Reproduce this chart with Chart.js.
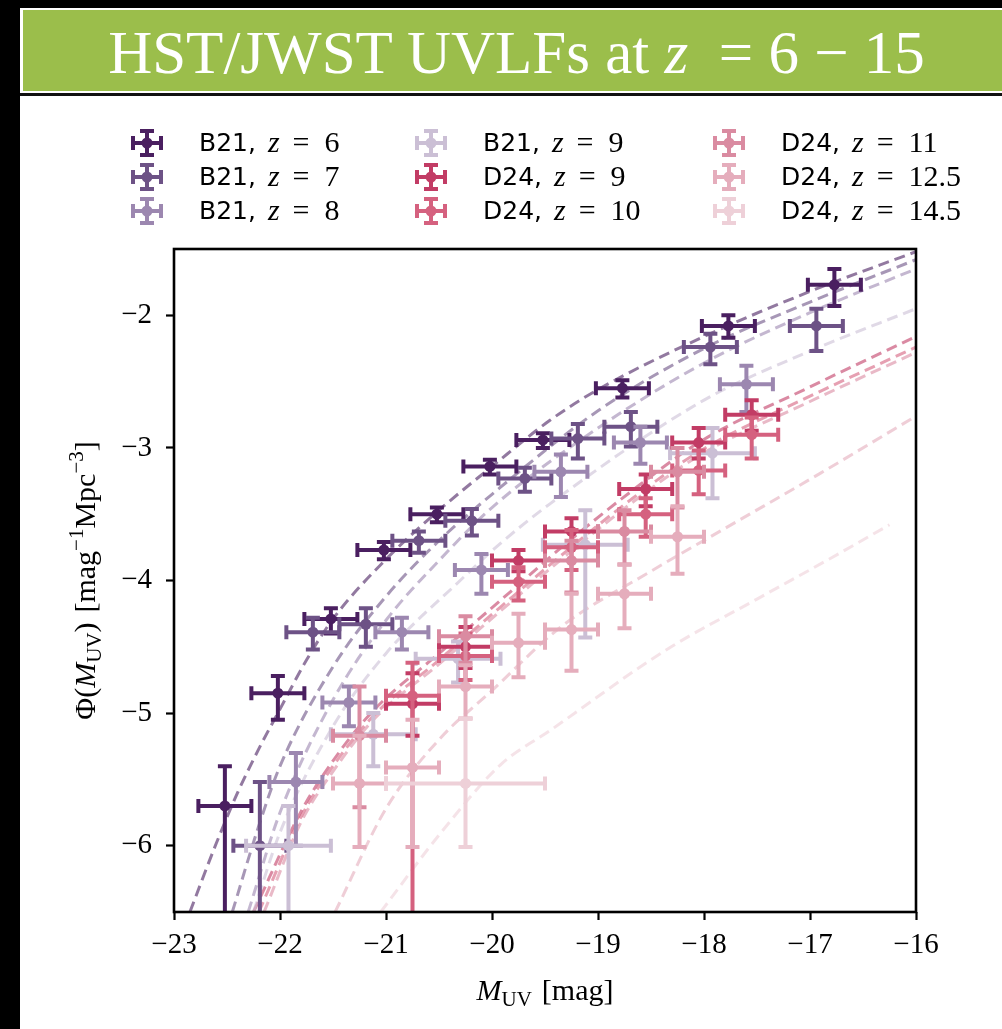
<!DOCTYPE html>
<html><head><meta charset="utf-8">
<script src="https://cdn.jsdelivr.net/npm/chart.js@4.4.1/dist/chart.umd.min.js"></script>
<style>
html,body{margin:0;padding:0;background:#fff;width:1002px;height:1029px;overflow:hidden;position:relative}
#leftbar{position:absolute;left:0;top:0;width:20px;height:1029px;background:#000;z-index:2}
#topbar{position:absolute;left:0;top:0;width:1002px;height:8px;background:#000;z-index:2}
#banner{position:absolute;left:21px;top:8px;width:981px;height:85px;background:#9bbe4b;border:2px solid #fff;border-right:none;box-sizing:border-box;color:#fff;font-family:"Liberation Serif",serif;font-size:61px;line-height:86px;text-align:center;z-index:2;padding-left:8px}
#bannerline{position:absolute;left:20px;top:93px;width:982px;height:3px;background:#111;z-index:2}
canvas{position:absolute;left:0;top:0;z-index:1}
</style></head>
<body>
<div id="leftbar"></div><div id="topbar"></div>
<div id="banner">HST/JWST UVLFs at <i>z</i>&nbsp; = 6 − 15</div>
<div id="bannerline"></div>
<canvas id="c" width="1002" height="1029"></canvas>
<script>
// ---------- axis ticks ----------
const xTicks = [-23, -22, -21, -20, -19, -18, -17, -16];
const yTicks = [-6, -5, -4, -3, -2];

// ---------- series labels ----------
const sources   = ['B21', 'B21', 'B21', 'B21', 'D24', 'D24', 'D24', 'D24', 'D24'];
const redshifts = ['6', '7', '8', '9', '9', '10', '11', '12.5', '14.5'];

// ---------- B21 z=6 ----------
const M_b6   = [-22.52, -22.02, -21.52, -21.02, -20.52, -20.02, -19.52, -18.77, -17.77, -16.77];
const P_b6   = [-5.70, -4.85, -4.29, -3.77, -3.50, -3.14, -2.94, -2.55, -2.08, -1.77];
const Phi_b6 = [-5.40, -4.72, -4.21, -3.71, -3.45, -3.09, -2.89, -2.49, -2.00, -1.65];
const Plo_b6 = [-9.00, -5.05, -4.40, -3.84, -3.56, -3.20, -3.00, -2.62, -2.17, -1.93];
const Xe_b6  = [0.25, 0.25, 0.25, 0.25, 0.25, 0.25, 0.25, 0.25, 0.25, 0.25];
// ---------- B21 z=7 ----------
const M_b7   = [-22.19, -21.69, -21.19, -20.69, -20.19, -19.69, -19.19, -18.69, -17.94, -16.94];
const P_b7   = [-6.00, -4.39, -4.33, -3.70, -3.55, -3.23, -2.93, -2.84, -2.24, -2.08];
const Phi_b7 = [-5.52, -4.28, -4.21, -3.63, -3.46, -3.15, -2.82, -2.73, -2.14, -1.95];
const Plo_b7 = [-9.00, -4.52, -4.50, -3.79, -3.66, -3.33, -3.08, -2.99, -2.37, -2.27];
const Xe_b7  = [0.25, 0.25, 0.25, 0.25, 0.25, 0.25, 0.25, 0.25, 0.25, 0.25];
// ---------- B21 z=8 ----------
const M_b8   = [-21.85, -21.35, -20.85, -20.10, -19.35, -18.60, -17.60];
const P_b8   = [-5.52, -4.92, -4.39, -3.92, -3.18, -2.96, -2.52];
const Phi_b8 = [-5.30, -4.80, -4.28, -3.80, -3.05, -2.84, -2.38];
const Plo_b8 = [-6.00, -5.10, -4.52, -4.10, -3.37, -3.12, -2.73];
const Xe_b8  = [0.25, 0.25, 0.25, 0.25, 0.25, 0.25, 0.25];
// ---------- B21 z=9 ----------
const M_b9   = [-21.92, -21.12, -20.32, -19.12, -17.92];
const P_b9   = [-6.00, -5.16, -4.59, -3.73, -3.04];
const Phi_b9 = [-5.70, -5.00, -4.46, -3.47, -2.85];
const Plo_b9 = [-9.00, -5.40, -4.77, -4.43, -3.38];
const Xe_b9  = [0.40, 0.40, 0.40, 0.40, 0.40];
// ---------- D24 z=9 ----------
const M_d9   = [-20.75, -20.25, -19.75, -19.25, -18.55, -18.05, -17.55];
const P_d9   = [-4.93, -4.50, -3.85, -3.63, -3.31, -2.96, -2.75];
const Phi_d9 = [-4.70, -4.35, -3.77, -3.53, -3.20, -2.85, -2.64];
const Plo_d9 = [-5.17, -4.66, -3.93, -3.75, -3.44, -3.08, -2.87];
const Xe_d9  = [0.25, 0.25, 0.25, 0.25, 0.25, 0.25, 0.25];
// ---------- D24 z=10 ----------
const M_d10   = [-20.75, -20.25, -19.75, -19.25, -18.55, -18.05, -17.55];
const P_d10   = [-4.87, -4.57, -4.01, -3.75, -3.50, -3.17, -2.90];
const Phi_d10 = [-4.62, -4.40, -3.90, -3.62, -3.38, -3.02, -2.77];
const Plo_d10 = [-9.00, -4.75, -4.15, -3.92, -3.67, -3.35, -3.08];
const Xe_d10  = [0.25, 0.25, 0.25, 0.25, 0.25, 0.25, 0.25];
// ---------- D24 z=11 ----------
const M_d11   = [-21.25, -20.25, -19.25, -18.75, -18.25];
const P_d11   = [-5.17, -4.42, -3.85, -3.63, -3.18];
const Phi_d11 = [-4.80, -4.27, -3.70, -3.47, -3.00];
const Plo_d11 = [-5.71, -4.62, -4.09, -3.88, -3.45];
const Xe_d11  = [0.25, 0.25, 0.25, 0.25, 0.25];
// ---------- D24 z=12.5 ----------
const M_d12   = [-21.25, -20.75, -20.25, -19.75, -19.25, -18.75, -18.25];
const P_d12   = [-5.53, -5.41, -4.80, -4.47, -4.37, -4.10, -3.67];
const Phi_d12 = [-5.17, -5.05, -4.64, -4.25, -4.10, -3.88, -3.44];
const Plo_d12 = [-6.01, -6.01, -5.04, -4.73, -4.68, -4.36, -3.95];
const Xe_d12  = [0.25, 0.25, 0.25, 0.25, 0.25, 0.25, 0.25];
// ---------- D24 z=14.5 ----------
const M_d14   = [-20.25];
const P_d14   = [-5.53];
const Phi_d14 = [-5.04];
const Plo_d14 = [-6.01];
const Xe_d14  = [0.75];

// ---------- dashed fit curves ----------
const FM_b6 = [-22.85, -22.6, -22.4, -22.2, -22.0, -21.75, -21.5, -21.0, -20.5, -20.0, -19.45, -19.0, -18.0, -17.0, -16.0];
const FP_b6 = [-6.50, -5.98, -5.60, -5.27, -4.97, -4.60, -4.29, -3.84, -3.47, -3.14, -2.79, -2.56, -2.16, -1.82, -1.52];
const FM_b7 = [-22.45, -22.2, -22.0, -21.5, -21.0, -20.5, -20.0, -19.0, -18.0, -17.0, -16.0];
const FP_b7 = [-6.50, -5.85, -5.40, -4.65, -4.12, -3.70, -3.35, -2.72, -2.25, -1.90, -1.58];
const FM_b8 = [-22.3, -22.0, -21.5, -21.0, -20.5, -20.0, -19.0, -18.0, -17.0, -16.0];
const FP_b8 = [-6.50, -5.75, -4.90, -4.30, -3.85, -3.45, -2.85, -2.36, -1.98, -1.65];
const FM_b9 = [-22.25, -22.0, -21.5, -21.0, -20.3, -19.92, -19.45, -18.0, -17.0, -16.0];
const FP_b9 = [-6.50, -5.90, -5.10, -4.55, -4.00, -3.72, -3.42, -2.64, -2.27, -1.95];
const FM_d9 = [-22.25, -21.8, -21.5, -21.13, -20.5, -19.92, -19.3, -18.69, -18.03, -17.0, -16.0];
const FP_d9 = [-6.50, -5.74, -5.36, -4.99, -4.55, -4.15, -3.72, -3.33, -2.95, -2.54, -2.16];
const FM_d10 = [-22.2, -21.8, -21.5, -21.13, -20.5, -19.92, -19.3, -18.69, -18.03, -17.0, -16.0];
const FP_d10 = [-6.50, -5.78, -5.40, -5.03, -4.60, -4.20, -3.78, -3.39, -3.02, -2.61, -2.24];
const FM_d11 = [-22.15, -21.8, -21.5, -21.13, -20.5, -19.92, -19.3, -18.69, -18.03, -17.0, -16.0];
const FP_d11 = [-6.50, -5.82, -5.44, -5.06, -4.63, -4.23, -3.81, -3.42, -3.05, -2.65, -2.28];
const FM_d12 = [-21.48, -21.0, -20.5, -20.0, -19.35, -18.5, -17.7, -16.9, -16.0];
const FP_d12 = [-6.50, -5.72, -5.20, -4.83, -4.35, -3.93, -3.56, -3.19, -2.76];
const FM_d14 = [-21.05, -20.5, -19.92, -19.45, -18.35, -17.5, -16.8, -16.25];
const FP_d14 = [-6.50, -5.92, -5.39, -5.13, -4.52, -4.14, -3.83, -3.58];

// ---------- styling ----------
const colors = ['#4a1f60', '#6d5286', '#9c87b0', '#cbbfd5', '#c23c65', '#d5617f', '#da8ba1', '#e5adbc', '#eed0d8'];
const fitAlpha = 0.6;

const series = [
  [M_b6, P_b6, Phi_b6, Plo_b6, Xe_b6, FM_b6, FP_b6],
  [M_b7, P_b7, Phi_b7, Plo_b7, Xe_b7, FM_b7, FP_b7],
  [M_b8, P_b8, Phi_b8, Plo_b8, Xe_b8, FM_b8, FP_b8],
  [M_b9, P_b9, Phi_b9, Plo_b9, Xe_b9, FM_b9, FP_b9],
  [M_d9, P_d9, Phi_d9, Plo_d9, Xe_d9, FM_d9, FP_d9],
  [M_d10, P_d10, Phi_d10, Plo_d10, Xe_d10, FM_d10, FP_d10],
  [M_d11, P_d11, Phi_d11, Plo_d11, Xe_d11, FM_d11, FP_d11],
  [M_d12, P_d12, Phi_d12, Plo_d12, Xe_d12, FM_d12, FP_d12],
  [M_d14, P_d14, Phi_d14, Plo_d14, Xe_d14, FM_d14, FP_d14]
];

function hexA(h, a) {
  const r = parseInt(h.slice(1,3),16), g = parseInt(h.slice(3,5),16), b = parseInt(h.slice(5,7),16);
  return `rgba(${r},${g},${b},${a})`;
}

const datasets = [];
series.forEach((s, i) => {
  const [M, P, Phi, Plo, Xe, FM, FP] = s;
  datasets.push({
    type: 'line', label: 'fit ' + i, isFit: true,
    data: FM.map((m, j) => ({x: m, y: FP[j]})),
    borderColor: hexA(colors[i], fitAlpha), borderWidth: 3, borderDash: [11, 6],
    pointRadius: 0, fill: false, cubicInterpolationMode: 'monotone', order: 30
  });
});
series.forEach((s, i) => {
  const [M, P, Phi, Plo, Xe] = s;
  datasets.push({
    type: 'scatter', label: sources[i] + ', z = ' + redshifts[i], idx: i,
    data: M.map((m, j) => ({x: m, y: P[j]})),
    errHi: Phi, errLo: Plo, errX: Xe,
    backgroundColor: colors[i], borderColor: colors[i], borderWidth: 0,
    pointRadius: 5.5, pointHoverRadius: 5.5, order: 20 - i
  });
});

const SERIF = '"Liberation Serif", "DejaVu Serif", serif';
const SANS = '"DejaVu Sans", "Liberation Sans", sans-serif';
const LW = 4, CAP = 7;

function drawCross(ctx, cx, cy, hx, hy, cap, lw, col) {
  ctx.strokeStyle = col; ctx.lineWidth = lw; ctx.lineCap = 'butt';
  ctx.beginPath();
  ctx.moveTo(cx - hx, cy); ctx.lineTo(cx + hx, cy);
  ctx.moveTo(cx, cy - hy); ctx.lineTo(cx, cy + hy);
  ctx.moveTo(cx - hx, cy - cap); ctx.lineTo(cx - hx, cy + cap);
  ctx.moveTo(cx + hx, cy - cap); ctx.lineTo(cx + hx, cy + cap);
  ctx.moveTo(cx - cap, cy - hy); ctx.lineTo(cx + cap, cy - hy);
  ctx.moveTo(cx - cap, cy + hy); ctx.lineTo(cx + cap, cy + hy);
  ctx.stroke();
}

const errorBars = {
  id: 'errorBars',
  beforeDatasetDraw(chart, args) {
    const ds = chart.data.datasets[args.index];
    if (!ds.errHi) return;
    const xs = chart.scales.x, ys = chart.scales.y, ctx = chart.ctx, a = chart.chartArea;
    ctx.save();
    ctx.beginPath(); ctx.rect(a.left, a.top, a.right - a.left, a.bottom - a.top); ctx.clip();
    ctx.strokeStyle = ds.borderColor; ctx.lineWidth = LW; ctx.lineCap = 'butt';
    ds.data.forEach((p, j) => {
      const px = xs.getPixelForValue(p.x), py = ys.getPixelForValue(p.y);
      const xl = xs.getPixelForValue(p.x - ds.errX[j]), xr = xs.getPixelForValue(p.x + ds.errX[j]);
      const yt = ys.getPixelForValue(ds.errHi[j]), yb = ys.getPixelForValue(ds.errLo[j]);
      ctx.beginPath();
      ctx.moveTo(xl, py); ctx.lineTo(xr, py);
      ctx.moveTo(px, yt); ctx.lineTo(px, yb);
      ctx.moveTo(xl, py - CAP); ctx.lineTo(xl, py + CAP);
      ctx.moveTo(xr, py - CAP); ctx.lineTo(xr, py + CAP);
      ctx.moveTo(px - CAP, yt); ctx.lineTo(px + CAP, yt);
      ctx.moveTo(px - CAP, yb); ctx.lineTo(px + CAP, yb);
      ctx.stroke();
    });
    ctx.restore();
  }
};

function richWidth(ctx, parts) {
  let w = 0;
  parts.forEach(p => { ctx.font = p.f; w += ctx.measureText(p.t).width + (p.gap || 0); });
  return w;
}
function drawRich(ctx, parts, x, y) {
  let cx = x;
  parts.forEach(p => {
    ctx.font = p.f;
    ctx.fillText(p.t, cx, y + (p.dy || 0));
    cx += ctx.measureText(p.t).width + (p.gap || 0);
  });
}

const decor = {
  id: 'decor',
  afterDatasetsDraw(chart) {
    const ctx = chart.ctx, a = chart.chartArea;
    ctx.save();
    ctx.strokeStyle = '#000'; ctx.lineWidth = 2.6;
    ctx.strokeRect(a.left, a.top, a.right - a.left, a.bottom - a.top);
    ctx.restore();
  },
  afterDraw(chart) {
    const ctx = chart.ctx, a = chart.chartArea;
    ctx.save();
    ctx.fillStyle = '#000'; ctx.textBaseline = 'alphabetic';
    // x-axis title
    const xp = [
      {t: 'M', f: 'italic 30px ' + SERIF},
      {t: 'UV', f: '21px ' + SERIF, dy: 6, gap: 10},
      {t: '[mag]', f: '30px ' + SERIF}
    ];
    const xw = richWidth(ctx, xp);
    drawRich(ctx, xp, (a.left + a.right) / 2 - xw / 2, 1000);
    // y-axis title
    const yp = [
      {t: 'Φ(', f: '30px ' + SERIF},
      {t: 'M', f: 'italic 30px ' + SERIF},
      {t: 'UV', f: '21px ' + SERIF, dy: 6},
      {t: ')', f: '30px ' + SERIF, gap: 10},
      {t: '[mag', f: '30px ' + SERIF},
      {t: '−1', f: '21px ' + SERIF, dy: -12},
      {t: 'Mpc', f: '30px ' + SERIF},
      {t: '−3', f: '21px ' + SERIF, dy: -12},
      {t: ']', f: '30px ' + SERIF}
    ];
    const yw = richWidth(ctx, yp);
    ctx.translate(95, (a.top + a.bottom) / 2);
    ctx.rotate(-Math.PI / 2);
    drawRich(ctx, yp, -yw / 2, 0);
    ctx.restore();

    // legend (3 columns x 3 rows, column-major)
    ctx.save();
    const colX = [147, 431, 729], rowY = [143, 177, 211];
    chart.data.datasets.filter(d => d.errHi).forEach(d => {
      const i = d.idx, col = Math.floor(i / 3), row = i % 3;
      const cx = colX[col], cy = rowY[row];
      drawCross(ctx, cx, cy, 14, 12, 7, LW, d.borderColor);
      ctx.fillStyle = d.borderColor;
      ctx.beginPath(); ctx.arc(cx, cy, 5.5, 0, Math.PI * 2); ctx.fill();
      ctx.fillStyle = '#000'; ctx.textBaseline = 'middle';
      drawRich(ctx, [
        {t: sources[i] + ',', f: '25px ' + SANS, gap: 12},
        {t: 'z', f: 'italic 30px ' + SERIF, gap: 13},
        {t: '=', f: '30px ' + SERIF, gap: 15},
        {t: redshifts[i], f: '30px ' + SERIF}
      ], cx + 52, cy + 1);
    });
    ctx.restore();
  }
};

const tickFmt = v => (v < 0 ? '\u2212' + Math.abs(v) : String(v));

new Chart(document.getElementById('c'), {
  data: {datasets},
  options: {
    responsive: false, animation: false, devicePixelRatio: 1,
    layout: {padding: {left: 20, right: 86, top: 249, bottom: 37}},
    plugins: {legend: {display: false}, tooltip: {enabled: false}},
    scales: {
      x: {
        type: 'linear', min: -23, max: -16,
        afterBuildTicks: s => { s.ticks = xTicks.map(v => ({value: v})); },
        afterFit: s => { s.height = 80; },
        border: {display: false},
        grid: {display: true, drawOnChartArea: false, drawTicks: true, tickLength: 8, tickWidth: 2.2, tickColor: '#000'},
        ticks: {color: '#000', font: {family: SERIF, size: 29}, padding: 8, callback: tickFmt, maxRotation: 0}
      },
      y: {
        type: 'linear', min: -6.5, max: -1.5,
        afterBuildTicks: s => { s.ticks = yTicks.map(v => ({value: v})); },
        afterFit: s => { s.width = 154; },
        border: {display: false},
        grid: {display: true, drawOnChartArea: false, drawTicks: true, tickLength: 8, tickWidth: 2.2, tickColor: '#000'},
        ticks: {color: '#000', font: {family: SERIF, size: 29}, padding: 14, callback: tickFmt}
      }
    }
  },
  plugins: [errorBars, decor]
});
</script>
</body></html>
